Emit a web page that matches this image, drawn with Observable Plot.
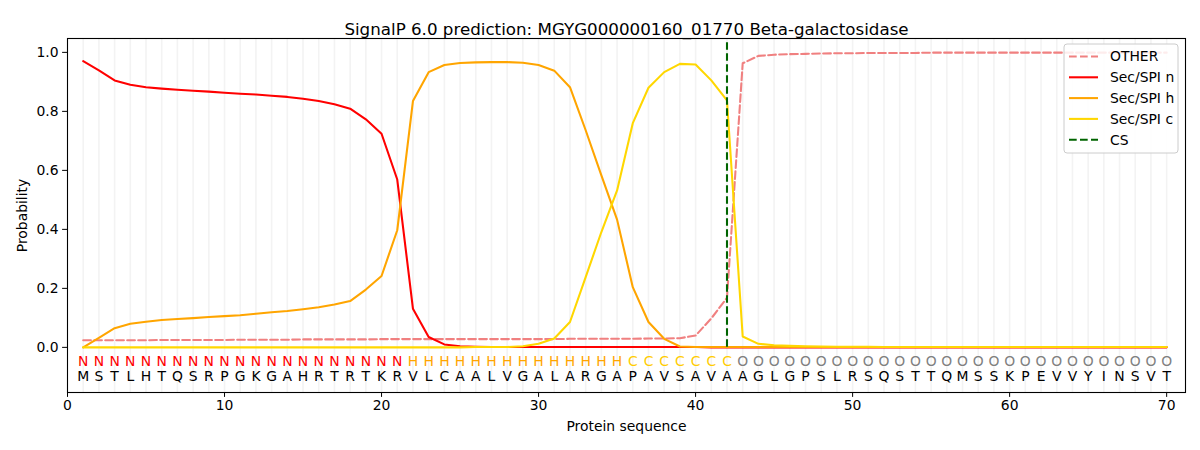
<!DOCTYPE html>
<html>
<head>
<meta charset="utf-8">
<script src="https://cdn.jsdelivr.net/npm/d3@7"></script>
<script src="https://cdn.jsdelivr.net/npm/@observablehq/plot@0.6"></script>
<style>
  html, body { margin: 0; padding: 0; background: white; }
  svg { font-family: "DejaVu Sans", sans-serif; }
</style>
</head>
<body>
<div id="chart"></div>
<script>
const title = "SignalP 6.0 prediction: MGYG000000160_01770 Beta-galactosidase";
const sequence = "MSTLHTQSRPGKGAHRTRTKRVLCAALVGALARGAPAVSAVAAGLGPSLRSQSTTQMSSKPEVVYINSVT";
const regionLabels = "NNNNNNNNNNNNNNNNNNNNNHHHHHHHHHHHHHHCCCCCCCOOOOOOOOOOOOOOOOOOOOOOOOOOOO";
const labelColors = {N: "#ff0000", H: "#ffa500", C: "#ffcc00", O: "#808080"};

const other = [0.024,0.024,0.024,0.024,0.024,0.025,0.025,0.025,0.025,0.025,
               0.026,0.026,0.026,0.026,0.027,0.027,0.027,0.027,0.027,0.028,
               0.028,0.028,0.028,0.028,0.028,0.028,0.028,0.028,0.028,0.028,
               0.028,0.029,0.029,0.029,0.029,0.029,0.030,0.030,0.031,0.040,
               0.098,0.168,0.963,0.988,0.992,0.994,0.995,0.996,0.997,0.997,
               0.998,0.998,0.998,0.998,0.999,0.999,0.999,0.999,0.999,0.999,
               0.999,0.999,0.999,0.999,0.999,0.999,0.999,0.999,0.999,0.999];
const secN = [0.970,0.939,0.905,0.890,0.882,0.877,0.873,0.870,0.867,0.863,
              0.860,0.857,0.853,0.849,0.843,0.835,0.824,0.809,0.773,0.724,
              0.569,0.131,0.035,0.010,0.004,0.002,0.001,0.001,0.001,0.001,
              0.001,0.001,0.001,0.001,0.001,0.001,0.001,0.001,0.001,0.001,
              0.000,0.000,0.000,0.000,0.000,0.000,0.000,0.000,0.000,0.000,
              0.000,0.000,0.000,0.000,0.000,0.000,0.000,0.000,0.000,0.000,
              0.000,0.000,0.000,0.000,0.000,0.000,0.000,0.000,0.000,0.000];
const secH = [0.000,0.032,0.065,0.080,0.087,0.093,0.096,0.099,0.103,0.106,
              0.109,0.114,0.119,0.123,0.129,0.136,0.145,0.157,0.196,0.242,
              0.397,0.835,0.933,0.957,0.964,0.966,0.967,0.967,0.965,0.957,
              0.938,0.882,0.736,0.583,0.433,0.204,0.086,0.029,0.003,0.001,
              0.001,0.001,0.001,0.001,0.001,0.001,0.001,0.001,0.001,0.001,
              0.001,0.001,0.001,0.001,0.001,0.001,0.001,0.001,0.001,0.001,
              0.001,0.001,0.001,0.001,0.001,0.001,0.001,0.001,0.001,0.001];
const secC = [0.000,0.000,0.000,0.000,0.000,0.000,0.000,0.000,0.000,0.000,
              0.000,0.000,0.000,0.000,0.000,0.000,0.000,0.000,0.000,0.000,
              0.000,0.000,0.000,0.000,0.000,0.001,0.001,0.001,0.004,0.012,
              0.030,0.086,0.238,0.391,0.532,0.760,0.880,0.933,0.961,0.959,
              0.905,0.837,0.037,0.012,0.007,0.005,0.004,0.003,0.002,0.002,
              0.002,0.001,0.001,0.001,0.001,0.001,0.001,0.001,0.001,0.001,
              0.001,0.001,0.001,0.001,0.001,0.001,0.001,0.001,0.001,0.001];
const csSite = 42;
const xTicks = [0, 10, 20, 30, 40, 50, 60, 70];
const yTicks = [0.0, 0.2, 0.4, 0.6, 0.8, 1.0];

const positions = Array.from(sequence, (_, i) => i + 1);
const residues = Array.from(sequence, (aa, i) => ({pos: i + 1, aa, region: regionLabels[i]}));
const dash = "7.7,3.3";
const series = [
  {name: "OTHER", values: other, color: "#f08080", dash: dash},
  {name: "Sec/SPI n", values: secN, color: "#ff0000", dash: null},
  {name: "Sec/SPI h", values: secH, color: "#ffa500", dash: null},
  {name: "Sec/SPI c", values: secC, color: "#ffd700", dash: null}
];
const lineMarks = series.map(s => Plot.line(
  s.values.map((v, i) => ({pos: i + 1, v})),
  {x: "pos", y: "v", stroke: s.color, strokeWidth: 2.08, strokeDasharray: s.dash, strokeLinejoin: "round"}
));

const chart = Plot.plot({
  width: 1200,
  height: 450,
  marginLeft: 67,
  marginRight: 15,
  marginTop: 38,
  marginBottom: 58,
  style: {fontFamily: "DejaVu Sans, sans-serif", fontSize: "13.9px", color: "black", background: "white"},
  x: {domain: [0, 71.2]},
  y: {domain: [-0.153, 1.047]},
  marks: [
    Plot.ruleX(positions, {stroke: "#f3f3f3", strokeWidth: 1.6}),
    ...lineMarks,
    Plot.ruleX([csSite], {y1: 0, y2: 1.035, stroke: "#006400", strokeWidth: 2.08, strokeDasharray: dash}),
    Plot.text(residues, {x: "pos", frameAnchor: "bottom", dy: -27, text: "region", fill: d => labelColors[d.region], fontSize: 13.9}),
    Plot.text(residues, {x: "pos", frameAnchor: "bottom", dy: -12, text: "aa", fill: "black", fontSize: 13.9}),
    Plot.frame({stroke: "black", strokeWidth: 1.1}),
    Plot.axisX({ticks: xTicks, tickSize: 4.9, tickPadding: 3, fontSize: 13.9, label: "Protein sequence", labelAnchor: "center", labelArrow: "none", labelOffset: 38}),
    Plot.axisY({ticks: yTicks, tickFormat: d3.format(".1f"), tickSize: 4.9, tickPadding: 4, fontSize: 13.9, label: "Probability", labelAnchor: "center", labelArrow: "none", labelOffset: 50}),
    Plot.text([title], {frameAnchor: "top", dy: -15, fontSize: 16.7, fill: "black"})
  ]
});
document.getElementById("chart").appendChild(chart);

// Legend (upper right, matplotlib style)
const svg = d3.select(chart);
const lg = svg.append("g").attr("font-family", "DejaVu Sans, sans-serif").attr("font-size", 13.9).attr("text-anchor", "start");
lg.append("rect").attr("x", 1064).attr("y", 44).attr("width", 114).attr("height", 109)
  .attr("rx", 3).attr("fill", "white").attr("fill-opacity", 0.85).attr("stroke", "#cccccc");
const legendItems = [...series.map(s => ({name: s.name, color: s.color, dash: s.dash})),
                     {name: "CS", color: "#006400", dash: dash}];
legendItems.forEach((d, i) => {
  const y = 56.5 + i * 20.8;
  lg.append("line").attr("x1", 1069).attr("x2", 1098).attr("y1", y).attr("y2", y)
    .attr("stroke", d.color).attr("stroke-width", 2.08).attr("stroke-dasharray", d.dash);
  lg.append("text").attr("x", 1110).attr("y", y).attr("dy", "0.35em").attr("fill", "black")
    .attr("text-anchor", "start").text(d.name);
});
</script>
</body>
</html>
